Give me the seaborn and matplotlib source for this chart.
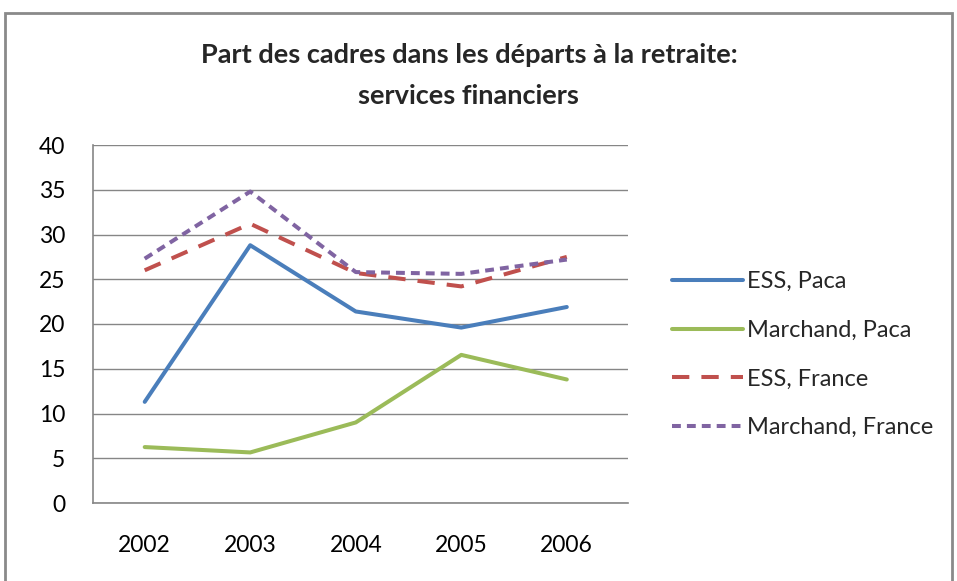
import pandas as pd
import matplotlib
matplotlib.use("Agg")
import matplotlib.pyplot as plt
import seaborn as sns
from matplotlib.patches import Rectangle

# donnees
annees = ["2002", "2003", "2004", "2005", "2006"]
ess_paca = [11.3, 28.8, 21.4, 19.6, 21.9]
marchand_paca = [6.25, 5.65, 9.0, 16.55, 13.8]
ess_france = [26.0, 31.2, 25.7, 24.2, 27.5]
marchand_france = [27.3, 34.8, 25.8, 25.6, 27.2]
series = ["ESS, Paca", "Marchand, Paca", "ESS, France", "Marchand, France"]

frames = []
for nom, vals in zip(series, [ess_paca, marchand_paca, ess_france, marchand_france]):
    frames.append(pd.DataFrame({"annee": annees, "valeur": vals, "serie": nom}))
df = pd.concat(frames, ignore_index=True)

sns.set_style("white")
plt.rcParams["font.family"] = ["Lato", "DejaVu Sans"]

couleurs = {"ESS, Paca": "#4A7EBB", "Marchand, Paca": "#9BBB59",
            "ESS, France": "#C0504D", "Marchand, France": "#8064A2"}
tirets = {"ESS, Paca": "", "Marchand, Paca": "",
          "ESS, France": (4.3, 3.0), "Marchand, France": (2.2, 1.5)}

fig = plt.figure(figsize=(9.57, 5.81), dpi=100)
ax = fig.add_axes([93/957, 78/581, 535/957, 358/581])

sns.lineplot(data=df, x="annee", y="valeur", hue="serie", style="serie",
             palette=couleurs, dashes=tirets, linewidth=2.9, sort=False, ax=ax)

ax.set_ylim(0, 40)
ax.set_yticks(range(0, 41, 5))
ax.set_xlim(-0.49, 4.58)
ax.yaxis.grid(True, color="#868686", linewidth=1)
ax.set_axisbelow(True)
for s in ["top", "right"]:
    ax.spines[s].set_visible(False)
ax.spines["left"].set_color("#868686")
ax.spines["bottom"].set_color("#868686")
ax.spines["left"].set_linewidth(1.2)
ax.spines["bottom"].set_linewidth(1.2)
ax.tick_params(axis="both", length=0, labelsize=16.5, colors="black")
ax.tick_params(axis="y", pad=20)
ax.tick_params(axis="x", pad=23)
ax.set_xlabel("")
ax.set_ylabel("")

handles, labels = ax.get_legend_handles_labels()
leg = ax.legend(handles, labels, loc="upper left", bbox_to_anchor=(1.042, 0.707),
                frameon=False, fontsize=17, handlelength=3.0, handletextpad=0.2,
                labelspacing=1.17)

fig.text(0.49, 0.905, "Part des cadres dans les départs à la retraite:",
         ha="center", va="center", fontsize=19.5, fontweight="bold")
fig.text(0.49, 0.835, "services financiers", ha="center", va="center",
         fontsize=19.5, fontweight="bold")

# cadre gris du graphique
fig.patches.append(Rectangle((5/957, -0.05), 947/957, (568/581) + 0.05,
                             transform=fig.transFigure, fill=False,
                             edgecolor="#8a8a8a", linewidth=2))

fig.savefig("out.png", dpi=100)
